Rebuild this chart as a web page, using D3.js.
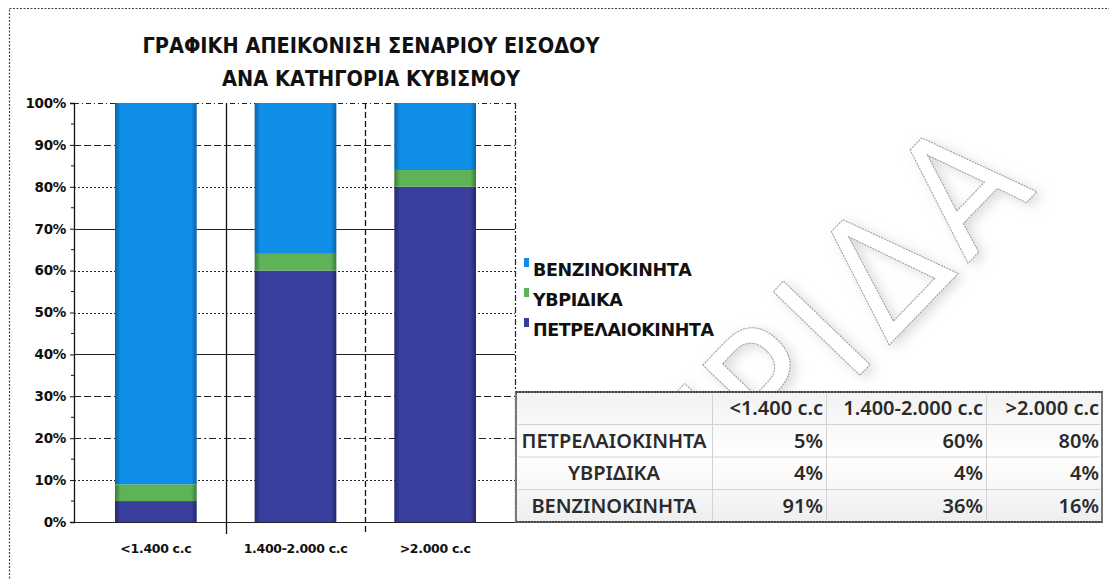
<!DOCTYPE html>
<html>
<head>
<meta charset="utf-8">
<script src="https://cdn.jsdelivr.net/npm/d3@7"></script>
<style>
  html, body { margin: 0; padding: 0; background: #fff; }
  svg { display: block; }
</style>
</head>
<body>
<svg id="chart" width="1109" height="580"></svg>
<script>
// Engine-size categories and the share of each fuel type (percent)
const categories = ["<1.400 c.c", "1.400-2.000 c.c", ">2.000 c.c"];
const dieselShare = [5, 60, 80];
const hybridShare = [4, 4, 4];
const petrolShare = [91, 36, 16];
const seriesNames = ["ΠΕΤΡΕΛΑΙΟΚΙΝΗΤΑ", "ΥΒΡΙΔΙΚΑ", "ΒΕΝΖΙΝΟΚΙΝΗΤΑ"];
const yTickValues = [0, 10, 20, 30, 40, 50, 60, 70, 80, 90, 100];
const titleLines = ["ΓΡΑΦΙΚΗ ΑΠΕΙΚΟΝΙΣΗ ΣΕΝΑΡΙΟΥ ΕΙΣΟΔΟΥ", "ΑΝΑ ΚΑΤΗΓΟΡΙΑ ΚΥΒΙΣΜΟΥ"];
const watermarkText = "ΤΡΙΔΑ";

const seriesValues = [dieselShare, hybridShare, petrolShare];
const colors = ["#3a3f9d", "#5db356", "#0f8fe8"];
const edgeColors = ["#24286e", "#3b7d37", "#0a63a8"];

const svg = d3.select("#chart");
const defs = svg.append("defs");

// soft glow used by the watermark outline
const glow = defs.append("filter").attr("id", "glow").attr("x", "-20%").attr("y", "-20%").attr("width", "140%").attr("height", "140%");
glow.append("feGaussianBlur").attr("in", "SourceAlpha").attr("stdDeviation", 6).attr("result", "b");
glow.append("feFlood").attr("flood-color", "#bdbdbd").attr("flood-opacity", 0.55);
glow.append("feComposite").attr("in2", "b").attr("operator", "in").attr("result", "s");
glow.append("feOffset").attr("in", "s").attr("dx", 5).attr("dy", 3).attr("result", "so");
const gm = glow.append("feMerge");
gm.append("feMergeNode").attr("in", "so");
gm.append("feMergeNode").attr("in", "SourceGraphic");

// bar shading: darker edges, brighter centre
colors.forEach((c, i) => {
  const g = defs.append("linearGradient").attr("id", "bar" + i).attr("x1", 0).attr("x2", 1).attr("y1", 0).attr("y2", 0);
  g.append("stop").attr("offset", "0%").attr("stop-color", edgeColors[i]);
  g.append("stop").attr("offset", "7%").attr("stop-color", c);
  g.append("stop").attr("offset", "93%").attr("stop-color", c);
  g.append("stop").attr("offset", "100%").attr("stop-color", edgeColors[i]);
});

// table bevel
const tg = defs.append("linearGradient").attr("id", "tblShade").attr("x1", 0).attr("x2", 0).attr("y1", 0).attr("y2", 1);
tg.append("stop").attr("offset", "0%").attr("stop-color", "#f2f2f2");
tg.append("stop").attr("offset", "50%").attr("stop-color", "#ffffff");
tg.append("stop").attr("offset", "100%").attr("stop-color", "#eeeeee");

// outer chart frame
svg.append("rect")
  .attr("x", 9.5).attr("y", 8.5).attr("width", 1120).attr("height", 600)
  .attr("fill", "none").attr("stroke", "#444").attr("stroke-width", 1.2)
  .attr("stroke-dasharray", "2,1.5");

// watermark
svg.append("g").attr("filter", "url(#glow)")
  .append("text")
  .attr("transform", "translate(836,318) rotate(-46)")
  .attr("text-anchor", "middle").attr("dominant-baseline", "central")
  .attr("font-family", "DejaVu Sans Condensed")
  .attr("font-size", 165).attr("letter-spacing", 12)
  .attr("fill", "#fff").attr("stroke", "#9c9c9c").attr("stroke-width", 1)
  .attr("stroke-dasharray", "2,1")
  .text(watermarkText);

// title
const title = svg.append("g").attr("font-family", "DejaVu Sans Condensed").attr("font-weight", "bold")
  .attr("font-size", 21.5).attr("fill", "#111").attr("text-anchor", "middle");
titleLines.forEach((t, i) => {
  title.append("text").attr("x", 371).attr("y", 53 + i * 33).text(t);
});

// scales
const plotLeft = 74, plotRight = 515;
const x = d3.scaleBand().domain(categories).range([86, 505]).paddingInner(0.415).paddingOuter(0.2075);
const y = d3.scaleLinear().domain([0, 100]).range([522, 103]);

// gridlines with mixed line styles
const gridDash = ["0", "2,2", "7,3,2,3", "7,3", "0", "2,2", "2,2", "0", "2,2", "7,3", "5,3,1,3"];
svg.append("g").selectAll("line").data(yTickValues).join("line")
  .attr("x1", plotLeft).attr("x2", plotRight)
  .attr("y1", d => Math.round(y(d)) + 0.5).attr("y2", d => Math.round(y(d)) + 0.5)
  .attr("stroke", "#222").attr("stroke-width", 1.2)
  .attr("stroke-dasharray", (d, i) => gridDash[i]);

// right border of the plot
svg.append("line").attr("x1", plotRight + 0.5).attr("x2", plotRight + 0.5).attr("y1", y(100)).attr("y2", y(0))
  .attr("stroke", "#222").attr("stroke-width", 1.2).attr("stroke-dasharray", "6,2,2,2");

// category separators
const seps = [x(categories[1]) - x.step() * x.paddingInner() / 2, x(categories[2]) - x.step() * x.paddingInner() / 2];
svg.append("g").selectAll("line").data(seps).join("line")
  .attr("x1", d => Math.round(d) + 0.5).attr("x2", d => Math.round(d) + 0.5)
  .attr("y1", y(100)).attr("y2", y(0) + 12)
  .attr("stroke", "#111").attr("stroke-width", 1.3)
  .attr("stroke-dasharray", (d, i) => i === 0 ? "0" : "6,3");

// stacked bars
const rows = categories.map((c, j) => ({ cat: c, s0: seriesValues[0][j], s1: seriesValues[1][j], s2: seriesValues[2][j] }));
const stacked = d3.stack().keys(["s0", "s1", "s2"])(rows);
svg.append("g").selectAll("g").data(stacked).join("g")
  .attr("fill", (d, i) => `url(#bar${i})`)
  .selectAll("rect").data(d => d).join("rect")
  .attr("x", d => x(d.data.cat))
  .attr("width", x.bandwidth())
  .attr("y", d => y(d[1]))
  .attr("height", d => y(d[0]) - y(d[1]));

// y axis
const yAxis = svg.append("g").attr("transform", `translate(${plotLeft},0)`)
  .call(d3.axisLeft(y).tickValues(yTickValues).tickFormat(d => d + "%").tickSize(4).tickPadding(4));
yAxis.select(".domain").attr("stroke", "#111").attr("stroke-width", 1.3);
yAxis.selectAll("text").attr("font-family", "DejaVu Sans").attr("font-weight", "bold")
  .attr("font-size", 13.5).attr("fill", "#111").attr("letter-spacing", -0.3);
yAxis.selectAll(".tick line").attr("stroke", "#111");
// minor ticks at the half steps
svg.append("g").selectAll("line").data(d3.range(5, 100, 10)).join("line")
  .attr("x1", plotLeft - 3).attr("x2", plotLeft)
  .attr("y1", d => y(d)).attr("y2", d => y(d))
  .attr("stroke", "#111");

// x axis labels
svg.append("g").selectAll("text").data(categories).join("text")
  .attr("x", d => x(d) + x.bandwidth() / 2).attr("y", 553)
  .attr("text-anchor", "middle")
  .attr("font-family", "DejaVu Sans").attr("font-weight", "bold")
  .attr("font-size", 12.5).attr("fill", "#111").attr("letter-spacing", -0.3)
  .text(d => d);

// legend (top to bottom: petrol, hybrid, diesel)
const legendOrder = [2, 1, 0];
const legend = svg.append("g");
legendOrder.forEach((si, k) => {
  const ly = 268 + k * 30;
  legend.append("rect").attr("x", 524).attr("y", ly - 10).attr("width", 5).attr("height", 9).attr("fill", colors[si]);
  legend.append("text").attr("x", 533).attr("y", ly + 8)
    .attr("font-family", "DejaVu Sans").attr("font-weight", "bold")
    .attr("font-size", 17.5).attr("fill", "#111").attr("letter-spacing", -0.4).text(seriesNames[si]);
});

// data table below the legend
const tX = 516, tY = 392, tW = 586, rowH = 32.5;
const colEdges = [516, 712, 826, 986, 1102];
const tbl = svg.append("g");
tbl.append("rect").attr("x", tX).attr("y", tY).attr("width", tW).attr("height", rowH * 4)
  .attr("fill", "url(#tblShade)").attr("stroke", "#777").attr("stroke-width", 2);
tbl.append("line").attr("x1", tX).attr("x2", tX + tW).attr("y1", tY).attr("y2", tY)
  .attr("stroke", "#333").attr("stroke-width", 1.6).attr("stroke-dasharray", "2,1");
tbl.append("line").attr("x1", tX).attr("x2", tX + tW).attr("y1", tY + rowH * 4).attr("y2", tY + rowH * 4)
  .attr("stroke", "#333").attr("stroke-width", 1.4).attr("stroke-dasharray", "2,1");
tbl.selectAll(".h").data([1, 2, 3]).join("line")
  .attr("x1", tX + 2).attr("x2", tX + tW - 2)
  .attr("y1", d => tY + d * rowH).attr("y2", d => tY + d * rowH)
  .attr("stroke", "#d2d2d2");
tbl.selectAll(".v").data(colEdges.slice(1, 4)).join("line")
  .attr("x1", d => d + 0.5).attr("x2", d => d + 0.5)
  .attr("y1", tY + 2).attr("y2", tY + rowH * 4 - 2)
  .attr("stroke", "#d2d2d2");

const tFont = { "font-family": "Noto Sans", "font-size": 20, "font-weight": 600, fill: "#2b2b2b" };
function tText(xp, yp, anchor, str) {
  const t = tbl.append("text").attr("x", xp).attr("y", yp).attr("text-anchor", anchor).text(str);
  Object.entries(tFont).forEach(([k, v]) => t.attr(k, v));
}
categories.forEach((c, j) => tText(colEdges[j + 2] - 3, tY + rowH * 0.5 + 7, "end", c));
seriesNames.forEach((n, i) => {
  const ry = tY + rowH * (i + 1.5) + 7;
  tText((colEdges[0] + colEdges[1]) / 2, ry, "middle", n);
  seriesValues[i].forEach((v, j) => tText(colEdges[j + 2] - 3, ry, "end", v + "%"));
});
</script>
</body>
</html>
